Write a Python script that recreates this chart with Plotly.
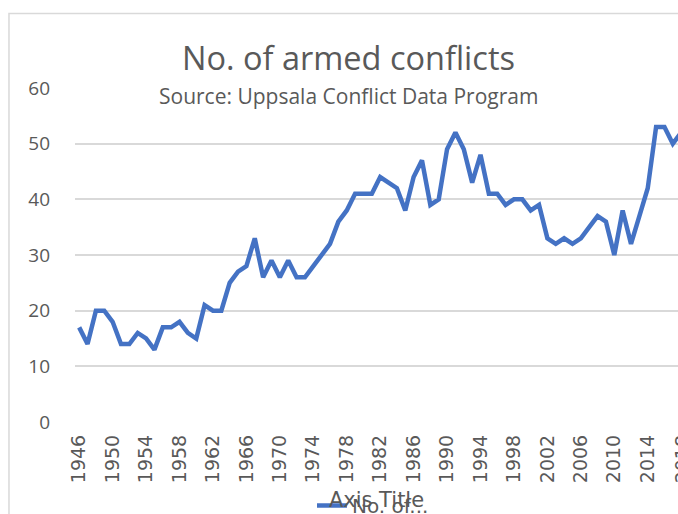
import plotly.graph_objects as go

years = list(range(1946, 2019))
conflicts = [17, 14, 20, 20, 18, 14, 14, 16, 15, 13,
             17, 17, 18, 16, 15, 21, 20, 20, 25, 27,
             28, 33, 26, 29, 26, 29, 26, 26, 28, 30,
             32, 36, 38, 41, 41, 41, 44, 43, 42, 38,
             44, 47, 39, 40, 49, 52, 49, 43, 48, 41,
             41, 39, 40, 40, 38, 39, 33, 32, 33, 32,
             33, 35, 37, 36, 30, 38, 32, 37, 42, 53,
             53, 50, 52]
series_name = "No. of..."
title_text = "No. of armed conflicts"
subtitle_text = "Source: Uppsala Conflict Data Program"
y_ticks = [0, 10, 20, 30, 40, 50, 60]

GRAY = "#595959"
GRID = "#d9d9d9"

fig = go.Figure()
fig.add_trace(go.Scatter(
    x=years, y=conflicts, mode="lines", name=series_name,
    line=dict(color="#4472C4", width=4.5), showlegend=True,
))

fig.update_layout(
    width=678, height=514,
    margin=dict(l=75, r=0, t=88, b=92, autoexpand=False),
    paper_bgcolor="white", plot_bgcolor="white",
    font=dict(family="Open Sans", color=GRAY),
    showlegend=True,
    legend=dict(orientation="h", x=0.393, xanchor="left", y=-0.25, yanchor="middle",
                font=dict(family="DejaVu Sans", size=20, color=GRAY),
                bgcolor="rgba(0,0,0,0)"),
    xaxis=dict(range=[1945.5, 2017.62], tickmode="linear", tick0=1946, dtick=4,
               tickangle=-90, showgrid=False, zeroline=False, showline=False,
               ticks="", ticklabelstandoff=8, automargin=False,
               tickfont=dict(family="DejaVu Sans", size=19, color=GRAY),
               title=dict(text="Axis Title", standoff=10,
                          font=dict(family="DejaVu Sans", size=21, color=GRAY))),
    yaxis=dict(range=[0, 60], tickvals=y_ticks, showgrid=True, gridcolor=GRID,
               gridwidth=1.5, zeroline=False, showline=False, ticks="",
               ticklabelstandoff=24, automargin=False,
               tickfont=dict(family="Open Sans", size=19, color=GRAY)),
    shapes=[dict(type="rect", xref="paper", yref="paper",
                 x0=-0.1095, x1=1.2, y0=-0.4, y1=1.2229,
                 line=dict(color=GRID, width=1.5), fillcolor="rgba(0,0,0,0)",
                 layer="below")],
    annotations=[
        dict(text=title_text, xref="paper", yref="paper", x=(348 - 75) / 603,
             y=(421.7 - 58) / 333.4, xanchor="center", yanchor="middle",
             showarrow=False, font=dict(family="Open Sans", size=32.5, color=GRAY)),
        dict(text=subtitle_text, xref="paper", yref="paper", x=(348 - 75) / 603,
             y=(421.7 - 96) / 333.4, xanchor="center", yanchor="middle",
             showarrow=False, font=dict(family="Open Sans", size=21, color=GRAY)),
        dict(text=str(years[-1]), xref="paper", yref="paper", x=(682 - 75) / 603,
             y=(421.7 - 433) / 333.4, xanchor="center", yanchor="top", textangle=-90,
             showarrow=False, font=dict(family="DejaVu Sans", size=19, color=GRAY)),
    ],
)

fig.write_html("out.html", config={"displayModeBar": False},
               post_script="document.body.style.margin='0px';document.body.style.overflow='hidden';")
